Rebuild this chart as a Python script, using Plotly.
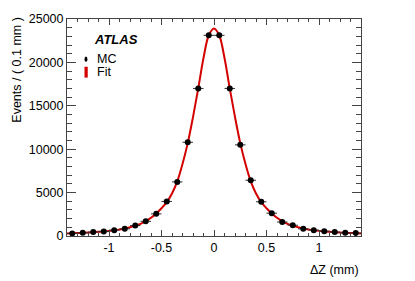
import plotly.graph_objects as go

# bin centres (mm) and MC event counts per 0.1 mm
dz_centres = [-1.35, -1.25, -1.15, -1.05, -0.95, -0.85, -0.75, -0.65, -0.55, -0.45,
              -0.35, -0.25, -0.15, -0.05, 0.05, 0.15, 0.25, 0.35, 0.45, 0.55,
              0.65, 0.75, 0.85, 0.95, 1.05, 1.15, 1.25, 1.35]
mc_events = [300, 375, 450, 525, 675, 825, 1200, 1690, 2550, 3980,
             6230, 10800, 17000, 23120, 23120, 17000, 10500, 6420, 3940, 2630,
             1610, 1240, 825, 675, 560, 450, 375, 340]

# fit curve
fit_x = [-1.4, -1.35, -1.3, -1.25, -1.2, -1.15, -1.1, -1.05, -1.0, -0.95, -0.9, -0.85,
         -0.8, -0.75, -0.7, -0.65, -0.6, -0.55, -0.5, -0.45, -0.4, -0.35, -0.3, -0.25,
         -0.2, -0.15, -0.1, -0.05, 0.0, 0.05, 0.1, 0.15, 0.2, 0.25, 0.3, 0.35, 0.4,
         0.45, 0.5, 0.55, 0.6, 0.65, 0.7, 0.75, 0.8, 0.85, 0.9, 0.95, 1.0, 1.05, 1.1,
         1.15, 1.2, 1.25, 1.3, 1.35, 1.4]
fit_y = [290, 310, 340, 370, 400, 440, 480, 530, 590, 660, 750, 850,
         1000, 1200, 1400, 1700, 2100, 2600, 3200, 3900, 4900, 6300, 8300, 10700,
         13700, 17000, 20500, 23100, 23900, 23100, 20500, 17000, 13700, 10700, 8300, 6300, 4900,
         3900, 3200, 2600, 2100, 1700, 1400, 1200, 1000, 850, 750, 660, 590, 530, 480,
         440, 400, 370, 340, 310, 290]

x_ticks = [-1, -0.5, 0, 0.5, 1]
x_tick_labels = ["-1", "-0.5", "0", "0.5", "1"]
y_ticks = [0, 5000, 10000, 15000, 20000, 25000]
y_tick_labels = ["0", "5000", "10000", "15000", "20000", "25000"]

FONT = "Liberation Sans, Arial, sans-serif"
AXC = "#444444"

fig = go.Figure()
fig.add_trace(go.Scatter(
    x=fit_x, y=fit_y, mode="lines",
    line=dict(color="#d40000", width=2, shape="spline", smoothing=1.0),
    showlegend=False, hoverinfo="skip"))
fig.add_trace(go.Scatter(
    x=dz_centres, y=mc_events, mode="markers",
    marker=dict(color="black", size=6),
    error_x=dict(type="constant", value=0.05, color="#333333", thickness=1, width=0),
    showlegend=False))

fig.update_layout(
    width=415, height=281,
    margin=dict(l=67, r=54, t=14, b=45),
    paper_bgcolor="white", plot_bgcolor="white",
    font=dict(family=FONT, size=12.5, color="black"),
    xaxis=dict(range=[-1.4, 1.4], tickvals=x_ticks, ticktext=x_tick_labels,
               ticks="inside", ticklen=6, tickcolor=AXC, tickwidth=1,
               showline=True, linecolor=AXC, linewidth=1, mirror="allticks",
               showgrid=False, zeroline=False,
               minor=dict(ticks="inside", dtick=0.1, tick0=0, ticklen=3,
                          tickcolor=AXC, showgrid=False)),
    yaxis=dict(range=[0, 25000], tickvals=y_ticks, ticktext=y_tick_labels,
               ticks="inside", ticklen=9, tickcolor=AXC, tickwidth=1,
               showline=True, linecolor=AXC, linewidth=1, mirror="allticks",
               showgrid=False, zeroline=False,
               minor=dict(ticks="inside", dtick=1000, tick0=0, ticklen=5,
                          tickcolor=AXC, showgrid=False)),
)

# axis titles
fig.add_annotation(text="Events / ( 0.1 mm )", xref="paper", yref="paper",
                   x=-0.17, y=1.02, xanchor="center", yanchor="top",
                   textangle=-90, showarrow=False, font=dict(size=12.5))
fig.add_annotation(text="ΔZ (mm)", xref="paper", yref="paper",
                   x=1.0, y=-0.115, xanchor="right", yanchor="top",
                   showarrow=False, font=dict(size=12.5))

# legend block
fig.add_annotation(text="<b><i>ATLAS</i></b>", xref="paper", yref="paper",
                   x=0.085, y=0.905, xanchor="left", yanchor="middle",
                   showarrow=False, font=dict(size=13))
fig.add_annotation(text="MC", xref="paper", yref="paper",
                   x=0.095, y=0.815, xanchor="left", yanchor="middle",
                   showarrow=False, font=dict(size=12.5))
fig.add_annotation(text="Fit", xref="paper", yref="paper",
                   x=0.095, y=0.755, xanchor="left", yanchor="middle",
                   showarrow=False, font=dict(size=12.5))
fig.add_shape(type="circle", xref="paper", yref="paper",
              x0=0.0595, x1=0.0695, y0=0.803, y1=0.827,
              fillcolor="black", line=dict(width=0))
fig.add_shape(type="rect", xref="paper", yref="paper",
              x0=0.0595, x1=0.0705, y0=0.73, y1=0.78,
              fillcolor="#d40000", line=dict(width=0))

fig.write_html("out.html", config={"displayModeBar": False},
               post_script="document.body.style.margin='0';")
